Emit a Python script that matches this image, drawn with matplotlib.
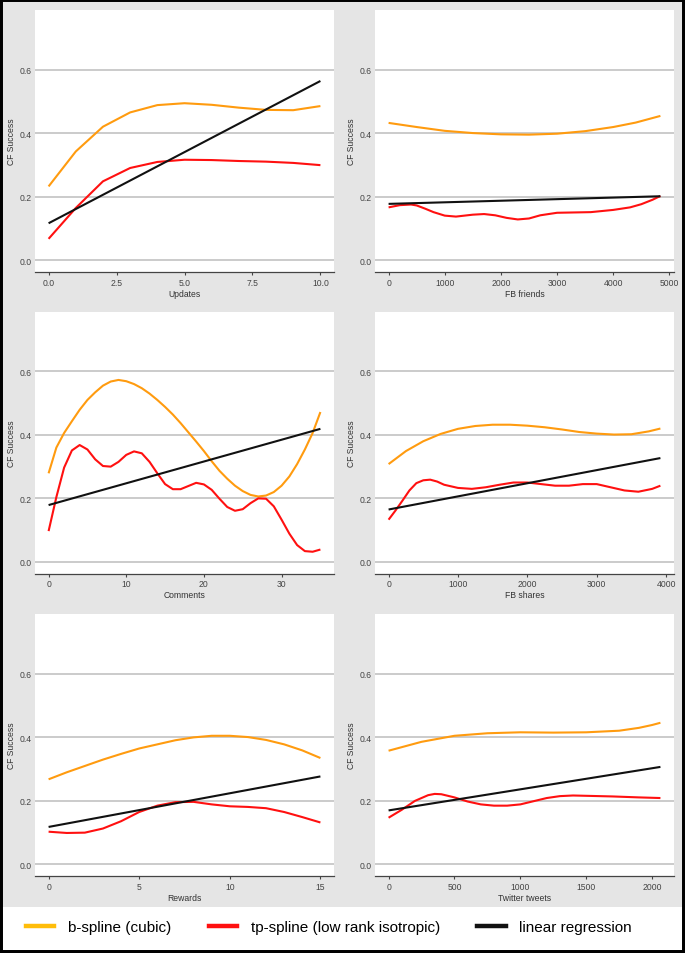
import matplotlib
matplotlib.use("Agg")
import matplotlib.pyplot as plt
from matplotlib.lines import Line2D
from matplotlib.patches import Rectangle

plt.rcParams['font.family'] = ['Liberation Sans', 'DejaVu Sans']

# ---------------- data ----------------
# Panel 1: Updates
upd_x = [0, 1, 2, 3, 4, 5, 6, 7, 8, 9, 10]
upd_bs = [0.232, 0.342, 0.420, 0.465, 0.488, 0.494, 0.489, 0.480, 0.473, 0.472, 0.485]
upd_tp = [0.067, 0.164, 0.248, 0.290, 0.309, 0.316, 0.315, 0.312, 0.310, 0.306, 0.299]
upd_lin_x = [0, 10]
upd_lin = [0.116, 0.564]

# Panel 2: FB friends
fbf_bs_x = [0, 500, 1000, 1500, 2000, 2500, 3000, 3500, 4000, 4400, 4840]
fbf_bs = [0.432, 0.419, 0.407, 0.400, 0.396, 0.395, 0.398, 0.406, 0.419, 0.433, 0.454]
fbf_tp_x = [0, 200, 400, 500, 650, 800, 1000, 1200, 1500, 1700, 1900, 2100, 2300,
            2500, 2700, 3000, 3300, 3600, 4000, 4300, 4500, 4700, 4840]
fbf_tp = [0.166, 0.173, 0.175, 0.172, 0.162, 0.151, 0.140, 0.137, 0.143, 0.145, 0.141,
          0.133, 0.128, 0.131, 0.141, 0.149, 0.150, 0.151, 0.158, 0.166, 0.176, 0.190, 0.202]
fbf_lin_x = [0, 4840]
fbf_lin = [0.177, 0.201]

# Panel 3: Comments
com_bs_x = [0, 1, 2, 3, 4, 5, 6, 7, 8, 9, 10, 11, 12, 13, 14, 15, 16, 17, 18, 19, 20,
            21, 22, 23, 24, 25, 26, 27, 28, 29, 30, 31, 32, 33, 34, 35]
com_bs = [0.278, 0.359, 0.405, 0.442, 0.478, 0.509, 0.533, 0.554, 0.567, 0.572, 0.568,
          0.559, 0.546, 0.529, 0.509, 0.487, 0.463, 0.436, 0.407, 0.378, 0.348, 0.316,
          0.286, 0.261, 0.239, 0.222, 0.210, 0.205, 0.208, 0.219, 0.239, 0.268, 0.307,
          0.353, 0.405, 0.471]
com_tp_x = list(range(36))
com_tp = [0.096, 0.203, 0.296, 0.350, 0.367, 0.353, 0.322, 0.301, 0.299, 0.314, 0.336,
          0.347, 0.341, 0.314, 0.278, 0.244, 0.228, 0.228, 0.238, 0.248, 0.243, 0.226,
          0.198, 0.172, 0.160, 0.165, 0.184, 0.199, 0.198, 0.174, 0.132, 0.088, 0.052,
          0.033, 0.031, 0.038]
com_lin_x = [0, 35]
com_lin = [0.178, 0.418]

# Panel 4: FB shares
fbs_bs_x = [0, 250, 500, 750, 1000, 1250, 1500, 1750, 2000, 2250, 2500, 2750, 3000,
            3250, 3500, 3750, 3918]
fbs_bs = [0.307, 0.348, 0.379, 0.402, 0.418, 0.427, 0.431, 0.431, 0.428, 0.423, 0.416,
          0.408, 0.403, 0.400, 0.401, 0.410, 0.419]
fbs_tp_x = [0, 100, 200, 300, 400, 500, 600, 700, 800, 1000, 1200, 1400, 1600, 1800,
            2000, 2200, 2400, 2600, 2800, 3000, 3200, 3400, 3600, 3800, 3918]
fbs_tp = [0.132, 0.161, 0.192, 0.224, 0.247, 0.256, 0.258, 0.252, 0.242, 0.232, 0.229,
          0.234, 0.242, 0.249, 0.249, 0.244, 0.239, 0.239, 0.244, 0.244, 0.234, 0.224,
          0.220, 0.229, 0.239]
fbs_lin_x = [0, 3918]
fbs_lin = [0.164, 0.326]

# Panel 5: Rewards
rew_bs_x = list(range(16))
rew_bs = [0.267, 0.289, 0.309, 0.329, 0.347, 0.364, 0.377, 0.390, 0.399, 0.404, 0.404,
          0.400, 0.391, 0.377, 0.358, 0.334]
rew_tp_x = list(range(16))
rew_tp = [0.102, 0.098, 0.099, 0.112, 0.135, 0.164, 0.184, 0.195, 0.196, 0.188, 0.182,
          0.180, 0.176, 0.164, 0.148, 0.131]
rew_lin_x = [0, 15]
rew_lin = [0.117, 0.276]

# Panel 6: Twitter tweets
tw_bs_x = [0, 250, 500, 750, 1000, 1250, 1500, 1750, 1900, 2000, 2063]
tw_bs = [0.357, 0.385, 0.404, 0.412, 0.415, 0.414, 0.415, 0.420, 0.429, 0.438, 0.445]
tw_tp_x = [0, 100, 200, 300, 350, 400, 500, 600, 700, 800, 900, 1000, 1100, 1200,
           1300, 1400, 1500, 1700, 1900, 2063]
tw_tp = [0.146, 0.171, 0.199, 0.217, 0.221, 0.220, 0.210, 0.197, 0.188, 0.184, 0.184,
         0.188, 0.198, 0.208, 0.214, 0.216, 0.215, 0.213, 0.210, 0.208]
tw_lin_x = [0, 2063]
tw_lin = [0.169, 0.306]

panels = [
    dict(label="Updates", bs=(upd_x, upd_bs), tp=(upd_x, upd_tp), lin=(upd_lin_x, upd_lin),
         xlim=(-0.5, 10.5), ticks=[0, 2.5, 5, 7.5, 10],
         ticklabels=["0.0", "2.5", "5.0", "7.5", "10.0"]),
    dict(label="FB friends", bs=(fbf_bs_x, fbf_bs), tp=(fbf_tp_x, fbf_tp), lin=(fbf_lin_x, fbf_lin),
         xlim=(-242, 5082), ticks=[0, 1000, 2000, 3000, 4000, 5000],
         ticklabels=["0", "1000", "2000", "3000", "4000", "5000"]),
    dict(label="Comments", bs=(com_bs_x, com_bs), tp=(com_tp_x, com_tp), lin=(com_lin_x, com_lin),
         xlim=(-1.75, 36.75), ticks=[0, 10, 20, 30],
         ticklabels=["0", "10", "20", "30"]),
    dict(label="FB shares", bs=(fbs_bs_x, fbs_bs), tp=(fbs_tp_x, fbs_tp), lin=(fbs_lin_x, fbs_lin),
         xlim=(-196, 4114), ticks=[0, 1000, 2000, 3000, 4000],
         ticklabels=["0", "1000", "2000", "3000", "4000"]),
    dict(label="Rewards", bs=(rew_bs_x, rew_bs), tp=(rew_tp_x, rew_tp), lin=(rew_lin_x, rew_lin),
         xlim=(-0.75, 15.75), ticks=[0, 5, 10, 15],
         ticklabels=["0", "5", "10", "15"]),
    dict(label="Twitter tweets", bs=(tw_bs_x, tw_bs), tp=(tw_tp_x, tw_tp), lin=(tw_lin_x, tw_lin),
         xlim=(-103, 2166), ticks=[0, 500, 1000, 1500, 2000],
         ticklabels=["0", "500", "1000", "1500", "2000"]),
]

y_ticks = [0.0, 0.2, 0.4, 0.6]
y_ticklabels = ["0.0", "0.2", "0.4", "0.6"]
legend_labels = ["b-spline (cubic)", "tp-spline (low rank isotropic)", "linear regression"]

# ---------------- style ----------------
BG = "#e5e5e5"
ORANGE = "#ff9b0f"
RED = "#ff1010"
BLACK = "#111111"
LEG_ORANGE = "#ffbd0a"
GRID = "#bdbdbd"
AXC = "#444444"

W, H = 685, 954
fig = plt.figure(figsize=(W / 100, H / 100), dpi=100, facecolor=BG)

# legend white band
fig.patches.append(Rectangle((0, 0), 1, (H - 908) / H, transform=fig.transFigure,
                             facecolor="white", edgecolor="none", zorder=0))
# black outer frame
fig.patches.append(Rectangle((0, 0), 1, 1, transform=fig.transFigure, fill=False,
                             edgecolor="black", linewidth=4.3, zorder=100))

col_left = [35, 375]
row_top = [11, 312.5, 615]
ax_w = 299
ax_h = 262

for i, p in enumerate(panels):
    r, c = divmod(i, 2)
    left = col_left[c] / W
    bottom = (H - (row_top[r] + ax_h)) / H
    ax = fig.add_axes([left, bottom, ax_w / W, ax_h / H])
    ax.set_facecolor("white")
    for s in ["top", "right", "left"]:
        ax.spines[s].set_visible(False)
    ax.spines["bottom"].set_color(AXC)
    ax.spines["bottom"].set_linewidth(0.9)

    ax.set_ylim(-0.0375, 0.7875)
    ax.set_xlim(*p["xlim"])
    ax.set_yticks(y_ticks)
    ax.set_yticklabels(y_ticklabels)
    ax.set_xticks(p["ticks"])
    ax.set_xticklabels(p["ticklabels"])
    ax.yaxis.grid(True, color=GRID, linewidth=1.1)
    ax.xaxis.grid(False)
    ax.set_axisbelow(True)
    ax.tick_params(axis="y", length=0, pad=2.2, labelsize=6.2, labelcolor="#444444")
    ax.tick_params(axis="x", length=2.2, width=0.8, color=AXC, pad=2,
                   labelsize=6.2, labelcolor="#444444")

    ax.plot(*p["bs"], color=ORANGE, lw=1.5, solid_capstyle="butt")
    ax.plot(*p["tp"], color=RED, lw=1.5, solid_capstyle="butt")
    ax.plot(*p["lin"], color=BLACK, lw=1.5, solid_capstyle="butt")

    ax.set_xlabel(p["label"], fontsize=6.2, color="#333333", labelpad=1.5)
    ax.set_ylabel("CF Success", fontsize=6.2, color="#333333", labelpad=3)

handles = [Line2D([], [], color=LEG_ORANGE, lw=3.2),
           Line2D([], [], color=RED, lw=3.2),
           Line2D([], [], color=BLACK, lw=3.2)]
fig.legend(handles, legend_labels, loc="center left",
           bbox_to_anchor=(26 / W, 1 - 928 / H), ncol=3, frameon=False,
           fontsize=11, handlelength=1.85, handletextpad=0.9,
           columnspacing=2.45, borderpad=0, borderaxespad=0)

fig.savefig("out.png", dpi=100, facecolor=BG)
